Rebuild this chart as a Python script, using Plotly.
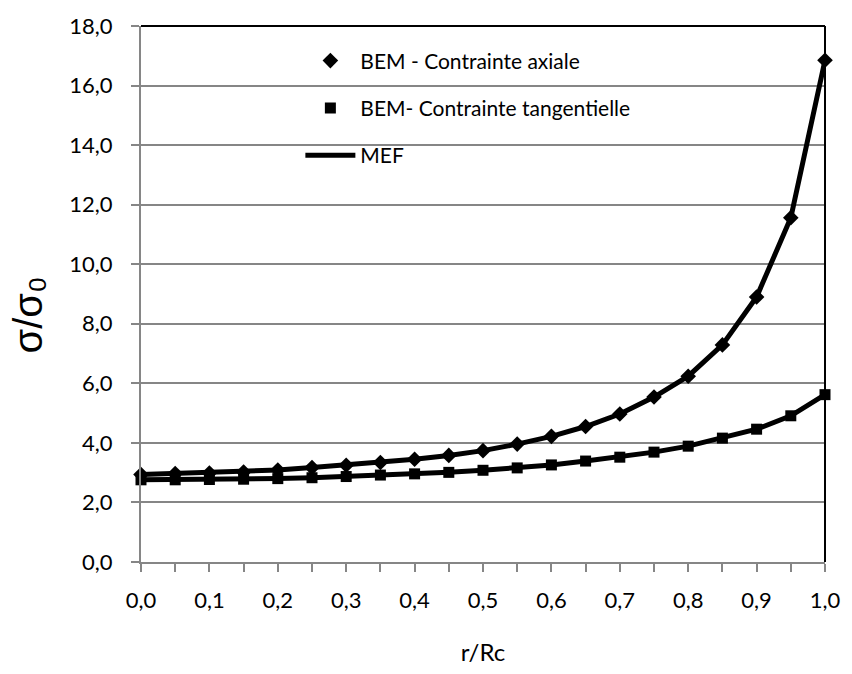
import plotly.graph_objects as go

# r/Rc positions
r_rc = [0.00, 0.05, 0.10, 0.15, 0.20, 0.25, 0.30, 0.35, 0.40, 0.45, 0.50,
        0.55, 0.60, 0.65, 0.70, 0.75, 0.80, 0.85, 0.90, 0.95, 1.00]

# BEM results (sigma / sigma0)
bem_axiale = [2.94, 2.97, 2.99, 3.02, 3.09, 3.17, 3.25, 3.34, 3.45, 3.58, 3.74,
              3.96, 4.22, 4.55, 4.97, 5.54, 6.24, 7.29, 8.90, 11.56, 16.85]
bem_tangentielle = [2.76, 2.76, 2.77, 2.78, 2.80, 2.83, 2.87, 2.92, 2.96, 3.01, 3.08,
                    3.16, 3.26, 3.39, 3.52, 3.69, 3.89, 4.16, 4.46, 4.91, 5.62]

# MEF curves
mef_axiale = [2.94, 2.97, 2.99, 3.02, 3.09, 3.17, 3.25, 3.34, 3.45, 3.58, 3.74,
              3.96, 4.22, 4.55, 4.97, 5.54, 6.24, 7.29, 8.90, 11.56, 16.85]
mef_tangentielle = [2.76, 2.76, 2.77, 2.78, 2.80, 2.83, 2.87, 2.92, 2.96, 3.01, 3.08,
                    3.16, 3.26, 3.39, 3.52, 3.69, 3.89, 4.16, 4.46, 4.91, 5.62]

x_tickvals = [0.00, 0.05, 0.10, 0.15, 0.20, 0.25, 0.30, 0.35, 0.40, 0.45, 0.50,
              0.55, 0.60, 0.65, 0.70, 0.75, 0.80, 0.85, 0.90, 0.95, 1.00]
x_ticktext = ["0,0", " ", "0,1", " ", "0,2", " ", "0,3", " ", "0,4", " ", "0,5",
              " ", "0,6", " ", "0,7", " ", "0,8", " ", "0,9", " ", "1,0"]
y_tickvals = [0, 2, 4, 6, 8, 10, 12, 14, 16, 18]
y_ticktext = ["0,0", "2,0", "4,0", "6,0", "8,0", "10,0", "12,0", "14,0", "16,0", "18,0"]

GRID = "#868686"
FONT = "Lato"

fig = go.Figure()

# MEF lines (drawn first)
fig.add_trace(go.Scatter(
    x=r_rc, y=mef_axiale, mode="lines", name="MEF",
    line=dict(color="black", width=5), legendgroup="c", showlegend=False,
    cliponaxis=False, hoverinfo="skip"))
fig.add_trace(go.Scatter(
    x=r_rc, y=mef_tangentielle, mode="lines", name="MEF",
    line=dict(color="black", width=5), legendgroup="c", showlegend=False,
    cliponaxis=False, hoverinfo="skip"))

fig.add_trace(go.Scatter(
    x=r_rc, y=bem_axiale, mode="markers", name="BEM - Contrainte axiale",
    marker=dict(symbol="diamond", size=12, color="black"),
    legendgroup="a", cliponaxis=False))
fig.add_trace(go.Scatter(
    x=r_rc, y=bem_tangentielle, mode="markers", name="BEM- Contrainte tangentielle",
    marker=dict(symbol="square", size=11, color="black"),
    legendgroup="b", cliponaxis=False))
# legend entry for MEF
fig.add_trace(go.Scatter(
    x=[None], y=[None], mode="lines", name="MEF",
    line=dict(color="black", width=5), legendgroup="c", showlegend=True))

fig.update_layout(
    width=852, height=674,
    margin=dict(l=141, r=20, t=17, b=109),
    paper_bgcolor="white", plot_bgcolor="white",
    font=dict(family=FONT, size=21, color="black"),
    showlegend=True,
    legend=dict(
        x=0.233, y=0.973, xanchor="left", yanchor="top",
        bgcolor="rgba(0,0,0,0)", borderwidth=0,
        font=dict(family=FONT, size=21, color="black"),
        traceorder="grouped", tracegroupgap=17, itemwidth=50,
    ),
    xaxis=dict(
        range=[0, 1], tickmode="array", tickvals=x_tickvals, ticktext=x_ticktext,
        showgrid=False, zeroline=False,
        showline=True, linecolor=GRID, linewidth=2,
        ticks="outside", ticklen=8, tickwidth=1.5, tickcolor=GRID,
        ticklabelstandoff=10,
        tickfont=dict(family=FONT, size=22, color="black"),
        title=dict(text="r/Rc", font=dict(family=FONT, size=24, color="black"), standoff=32),
        fixedrange=True,
    ),
    yaxis=dict(
        range=[0, 18], tickmode="array", tickvals=y_tickvals, ticktext=y_ticktext,
        showgrid=True, gridcolor=GRID, gridwidth=1.5, zeroline=False,
        showline=True, linecolor=GRID, linewidth=2,
        ticks="outside", ticklen=8, tickwidth=1.5, tickcolor=GRID,
        ticklabelstandoff=14,
        tickfont=dict(family=FONT, size=22, color="black"),
        fixedrange=True,
    ),
    shapes=[
        dict(type="line", xref="paper", yref="paper", x0=0, x1=1, y0=1, y1=1,
             line=dict(color="black", width=2)),
        dict(type="line", xref="paper", yref="paper", x0=1, x1=1, y0=0, y1=1,
             line=dict(color="black", width=2)),
    ],
    annotations=[
        dict(text="σ/σ₀", xref="paper", yref="paper", x=0, y=0.46,
             xanchor="center", yanchor="middle", xshift=-113, textangle=-90,
             showarrow=False, font=dict(family="Liberation Sans", size=40, color="black")),
    ],
)

fig.write_html("out.html")
